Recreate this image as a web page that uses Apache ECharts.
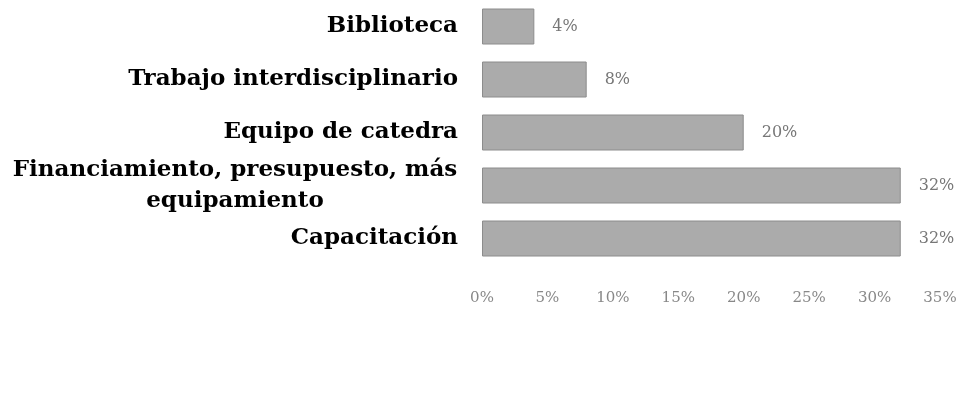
<!DOCTYPE html>
<html>
<head>
<meta charset="utf-8">
<script src="https://cdn.jsdelivr.net/npm/echarts@6/dist/echarts.min.js"></script>
<style>
  html, body { margin: 0; padding: 0; background: #fff; }
  #main { width: 968px; height: 397px; }
</style>
</head>
<body>
<div id="main"></div>
<script>
// datos del gráfico
var categorias = ['Biblioteca', 'Trabajo interdisciplinario', 'Equipo de catedra', 'Financiamiento, presupuesto, más\nequipamiento', 'Capacitación'];
var porcentajes = [4, 8, 20, 32, 32];
var ticks = [0, 5, 10, 15, 20, 25, 30, 35];

var chart = echarts.init(document.getElementById('main'));

var serif = 'DejaVu Serif';

var option = {
  backgroundColor: '#fff',
  grid: {
    left: 482,
    right: 28,
    top: -3,
    height: 268
  },
  xAxis: {
    type: 'value',
    min: ticks[0],
    max: ticks[ticks.length - 1],
    interval: 5,
    axisLine: { show: false },
    axisTick: { show: false },
    splitLine: { show: false },
    axisLabel: {
      margin: 26,
      formatter: '{value}%',
      color: '#888',
      fontFamily: serif,
      fontSize: 15
    }
  },
  yAxis: {
    type: 'category',
    inverse: true,
    data: categorias,
    axisLine: { show: false },
    axisTick: { show: false },
    axisLabel: {
      margin: 24,
      color: '#000',
      fontFamily: serif,
      fontWeight: 'bold',
      fontSize: 23,
      lineHeight: 31,
      // la etiqueta de dos líneas va centrada
      formatter: function (v) {
        if (v.indexOf('\n') < 0) return v;
        return v.split('\n').map(function (l) { return '{c|' + l + '}'; }).join('\n');
      },
      rich: {
        c: {
          width: 446,
          align: 'center',
          color: '#000',
          fontFamily: serif,
          fontWeight: 'bold',
          fontSize: 23,
          lineHeight: 31
        }
      }
    }
  },
  series: [{
    type: 'bar',
    data: porcentajes,
    barWidth: 36,
    itemStyle: {
      color: '#ababab',
      borderColor: '#8c8c8c',
      borderWidth: 1
    },
    label: {
      show: true,
      position: 'right',
      distance: 18,
      formatter: '{c}%',
      color: '#777',
      fontFamily: serif,
      fontSize: 16
    }
  }]
};

chart.setOption(option);
</script>
</body>
</html>
